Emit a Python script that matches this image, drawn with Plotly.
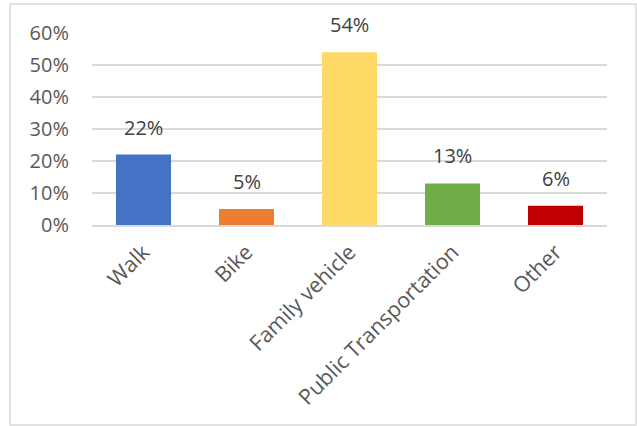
import plotly.graph_objects as go

# Share of trips by travel mode
modes = ["Walk", "Bike", "Family vehicle", "Public Transportation", "Other"]
shares = [0.22, 0.05, 0.54, 0.13, 0.06]
bar_colors = ["#4472C4", "#ED7D31", "#FFD966", "#70AD47", "#C00000"]
y_ticks = [0, 0.1, 0.2, 0.3, 0.4, 0.5, 0.6]

text_color = "#595959"
grid_color = "#D9D9D9"
font_family = "Open Sans"
font_size = 20

fig = go.Figure(
    go.Bar(
        x=modes,
        y=shares,
        marker=dict(color=bar_colors, line=dict(width=0)),
        width=0.534,
    )
)

# Value labels above each bar
for mode, share in zip(modes, shares):
    fig.add_annotation(
        x=mode,
        y=share,
        text=f"{share:.0%}",
        showarrow=False,
        yanchor="bottom",
        yshift=12,
        font=dict(family=font_family, size=font_size, color="#404040"),
    )

fig.update_layout(
    width=637,
    height=426,
    margin=dict(l=92, r=30, t=33, b=201),
    paper_bgcolor="white",
    plot_bgcolor="white",
    showlegend=False,
    font=dict(family=font_family, size=font_size, color=text_color),
)

fig.update_xaxes(
    tickangle=-45,
    showline=True,
    linecolor=grid_color,
    linewidth=2,
    showgrid=False,
    ticks="",
    ticklabelstandoff=4,
    tickfont=dict(family=font_family, size=21.5, color=text_color),
)

fig.update_yaxes(
    range=[0, 0.6],
    tickvals=y_ticks,
    tickformat=".0%",
    showgrid=True,
    gridcolor=grid_color,
    gridwidth=1.5,
    zeroline=False,
    showline=False,
    ticks="",
    ticklabelstandoff=22,
    tickfont=dict(family=font_family, size=font_size, color=text_color),
)

# Chart frame
fig.add_shape(
    type="rect",
    xref="paper",
    yref="paper",
    x0=(10 - 92) / 515,
    x1=(636 - 92) / 515,
    y0=(225 - 425) / 192,
    y1=(225 - 4) / 192,
    line=dict(color=grid_color, width=1.5),
    fillcolor="rgba(0,0,0,0)",
    layer="below",
)

fig.write_html("out.html")
